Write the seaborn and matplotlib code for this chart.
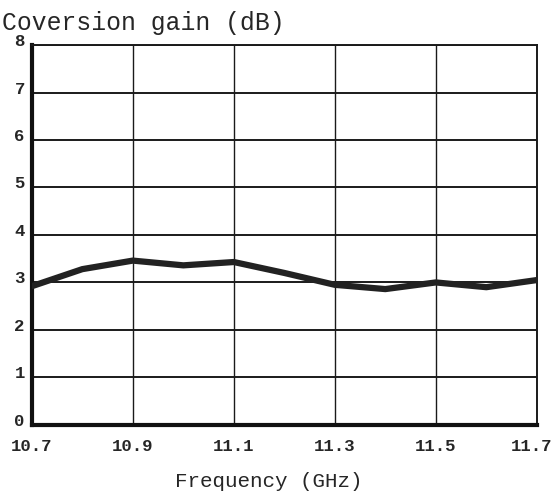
import numpy as np
import pandas as pd
import matplotlib
matplotlib.use("Agg")
import matplotlib.pyplot as plt
import matplotlib.transforms as mtransforms
import seaborn as sns

# values
freq = [10.7, 10.8, 10.9, 11.0, 11.1, 11.2, 11.3, 11.4, 11.5, 11.6, 11.7]
gain = [2.92, 3.28, 3.46, 3.36, 3.43, 3.2, 2.95, 2.86, 3.0, 2.9, 3.05]
x_ticks = [10.7, 10.9, 11.1, 11.3, 11.5, 11.7]
y_ticks = [0, 1, 2, 3, 4, 5, 6, 7, 8]

df = pd.DataFrame({"freq": freq, "gain": gain})

sns.set_style("white")
plt.rcParams['font.family'] = ['Liberation Mono', 'DejaVu Sans']

fig = plt.figure(figsize=(5.58, 5.01), dpi=100)
ax = fig.add_axes([0.057, 0.152, 0.905, 0.758])

# grid
for y in y_ticks[1:]:
    ax.axhline(y, color="#1a1a1a", lw=1.4, zorder=1)
for x in x_ticks[1:]:
    ax.axvline(x, color="#1a1a1a", lw=1.0, zorder=1)

sns.lineplot(data=df, x="freq", y="gain", ax=ax, color="#222222",
             linewidth=4.5, zorder=3)

ax.set_xlim(10.7, 11.7)
ax.set_ylim(0, 8)
ax.set_xticks(x_ticks)
ax.set_yticks(y_ticks)
ax.set_xticklabels([f"{v:.1f}" for v in x_ticks], fontsize=12.5, fontweight="bold")
ax.set_yticklabels([str(v) for v in y_ticks], fontsize=12.5, fontweight="bold")
ax.tick_params(axis="both", length=4, width=3, color="#111111", pad=6)
ax.tick_params(axis="y", pad=1)

# y labels sit a little above their gridlines in the original
shift = mtransforms.ScaledTranslation(0, 5 / 100, fig.dpi_scale_trans)
for lab in ax.get_yticklabels():
    lab.set_transform(lab.get_transform() + shift)
# keep the last x label inside the figure
xlabs = ax.get_xticklabels()
left = mtransforms.ScaledTranslation(-5 / 100, 0, fig.dpi_scale_trans)
xlabs[-1].set_transform(xlabs[-1].get_transform() + left)

for side in ["left", "bottom"]:
    ax.spines[side].set_linewidth(3)
    ax.spines[side].set_color("#111111")
for side in ["top", "right"]:
    ax.spines[side].set_linewidth(1.4)
    ax.spines[side].set_color("#1a1a1a")

ax.set_xlabel("Frequency (GHz)", fontsize=15)
ax.xaxis.set_label_coords(0.47, -0.125)
ax.set_ylabel("")
fig.text(0.003, 0.978, "Coversion gain (dB)", fontsize=17.8, va="top", ha="left")

fig.savefig("out.png", dpi=100)
